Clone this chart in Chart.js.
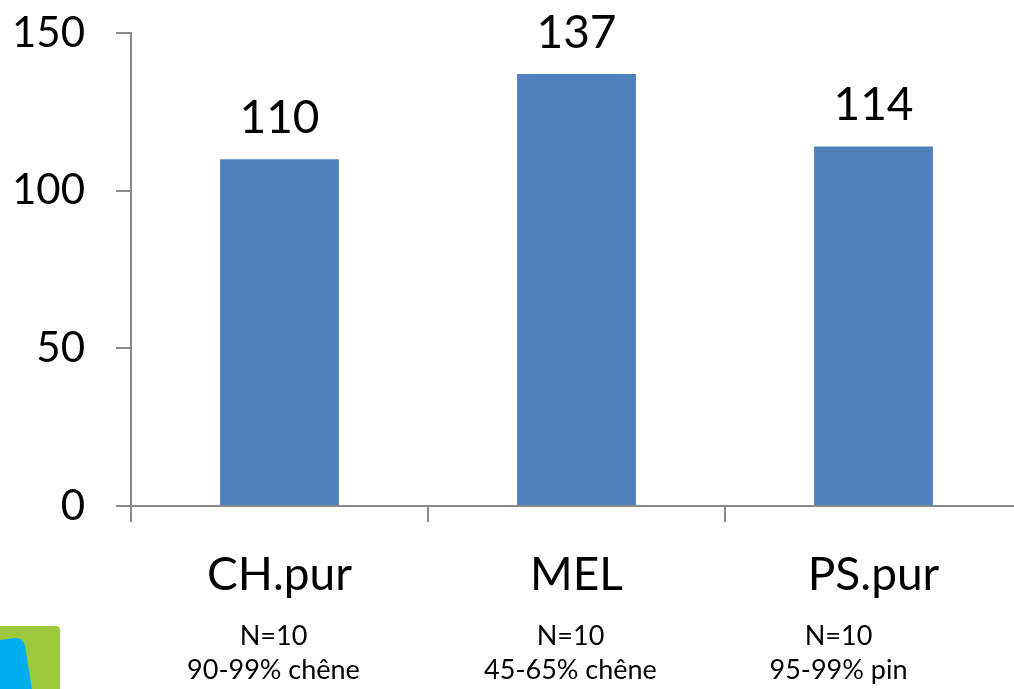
<!DOCTYPE html>
<html>
<head>
<meta charset="utf-8">
<script src="https://cdn.jsdelivr.net/npm/chart.js@4/dist/chart.umd.min.js"></script>
<style>
  html, body { margin: 0; padding: 0; background: #fff; overflow: hidden; }
  #wrap { width: 1026px; height: 689px; position: relative; }
</style>
</head>
<body>
<div id="wrap"><canvas id="chart"></canvas></div>
<script>
const categories = ['CH.pur', 'MEL', 'PS.pur'];
const values = [110, 137, 114];
const sampleSizes = ['N=10', 'N=10', 'N=10'];
const compositions = ['90-99% chêne', '45-65% chêne', '95-99% pin'];
const yTicks = [0, 50, 100, 150];

const FONT = 'Lato, "Open Sans", sans-serif';
const AXIS_GREY = '#898989';

// value above each bar
const valueLabels = {
    id: 'valueLabels',
    afterDatasetsDraw(chart) {
        const ctx = chart.ctx;
        const meta = chart.getDatasetMeta(0);
        ctx.save();
        ctx.font = '46px ' + FONT;
        ctx.fillStyle = '#000';
        ctx.textAlign = 'center';
        ctx.textBaseline = 'bottom';
        meta.data.forEach((bar, i) => {
            ctx.fillText(String(values[i]), bar.x, bar.y - 18);
        });
        ctx.restore();
    }
};

// sample size + composition under category names, plus corner logo
const subLabels = {
    id: 'subLabels',
    afterDraw(chart) {
        const ctx = chart.ctx;
        const x = chart.scales.x;
        ctx.save();
        ctx.font = '27px ' + FONT;
        ctx.fillStyle = '#000';
        ctx.textAlign = 'center';
        ctx.textBaseline = 'middle';
        categories.forEach((c, i) => {
            const px = x.getPixelForValue(i) - (i === 2 ? 35 : 6);
            ctx.fillText(sampleSizes[i], px, 636);
            ctx.fillText(compositions[i], px, 670);
        });

        // logo fragment
        ctx.fillStyle = '#9dc93c';
        ctx.beginPath();
        ctx.moveTo(0, 626);
        ctx.lineTo(56, 626);
        ctx.quadraticCurveTo(60, 626, 60, 630);
        ctx.lineTo(60, 689);
        ctx.lineTo(0, 689);
        ctx.closePath();
        ctx.fill();
        ctx.fillStyle = '#00aeef';
        ctx.beginPath();
        ctx.moveTo(0, 640);
        ctx.lineTo(14, 638);
        ctx.quadraticCurveTo(23, 637, 25, 646);
        ctx.lineTo(32, 689);
        ctx.lineTo(0, 689);
        ctx.closePath();
        ctx.fill();
        ctx.restore();
    }
};

new Chart(document.getElementById('chart'), {
    type: 'bar',
    data: {
        labels: categories,
        datasets: [{
            data: values,
            backgroundColor: '#4f81bd',
            barPercentage: 0.4,
            categoryPercentage: 1.0
        }]
    },
    options: {
        responsive: true,
        maintainAspectRatio: false,
        animation: false,
        layout: { padding: { top: 33, right: 4, left: 0, bottom: 0 } },
        plugins: { legend: { display: false }, tooltip: { enabled: false } },
        scales: {
            y: {
                min: 0,
                max: 150,
                afterBuildTicks: s => { s.ticks = yTicks.map(v => ({ value: v })); },
                afterFit: s => { s.width = 131; s.paddingTop = 0; s.paddingBottom = 0; },
                border: { color: AXIS_GREY, width: 2 },
                grid: { drawOnChartArea: false, color: AXIS_GREY, lineWidth: 2, tickLength: 15 },
                ticks: { color: '#000', font: { size: 42, family: FONT }, padding: 31 }
            },
            x: {
                afterFit: s => { s.height = 183; s.paddingLeft = 0; s.paddingRight = 0; },
                border: { color: AXIS_GREY, width: 2 },
                grid: { drawOnChartArea: false, color: AXIS_GREY, lineWidth: 2, tickLength: 16, offset: true },
                ticks: { color: '#000', font: { size: 46, family: FONT }, padding: 26, maxRotation: 0 }
            }
        }
    },
    plugins: [valueLabels, subLabels]
});
</script>
</body>
</html>
